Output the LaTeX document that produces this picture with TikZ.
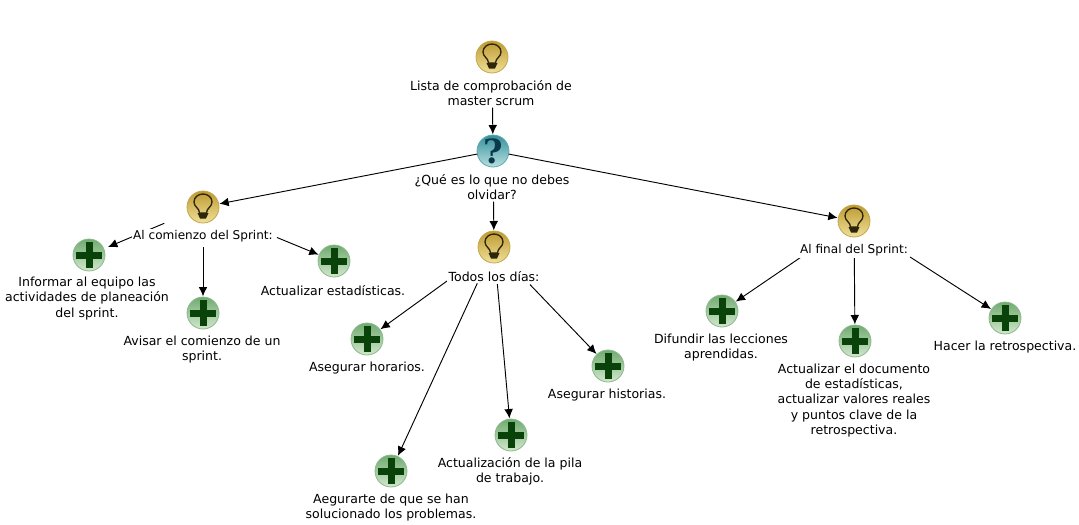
\documentclass[tikz,border=0pt]{standalone}
\usepackage{fontspec}
\setmainfont{DejaVu Sans}
\newfontfamily\askfont{DejaVu Serif}
\usetikzlibrary{arrows.meta}
\tikzset{
  iconbase/.style={circle,minimum size=24pt,inner sep=0pt,outer sep=0pt,line width=.6pt},
  bulbicon/.style={iconbase,draw=bulbrim,top color=bulbdark,bottom color=bulblight,
    path picture={\begin{scope}[shift={(path picture bounding box.center)}]
      \draw[bulbink,line width=1pt] (-3.5,6) .. controls (-3.5,1) and (-9,0) .. (-9,-5) .. controls (-9,-10) and (-4.5,-13) .. (0,-13) .. controls (4.5,-13) and (9,-10) .. (9,-5) .. controls (9,0) and (3.5,1) .. (3.5,6) -- cycle;
      \fill[bulbink] (-5.5,6) -- (5.5,6) -- (3,11.5) -- (-3,11.5) -- cycle;
    \end{scope}}},
  askicon/.style={iconbase,draw=askrim,top color=askdark,bottom color=asklight,text=askink,
    font=\askfont\bfseries\fontsize{25pt}{25pt}\selectfont},
  plusicon/.style={iconbase,draw=plusrim,top color=plusdark,bottom color=pluslight,
    path picture={\begin{scope}[shift={(path picture bounding box.center)}]
      \fill[plusink] (-13,-3.5) rectangle (13,3.5);
      \fill[plusink] (-3.5,-13) rectangle (3.5,13);
    \end{scope}}},
  lbl/.style={fill=white,align=center,inner xsep=1pt,inner ysep=1pt,font=\fontsize{9.4pt}{11.3pt}\selectfont},
  lblhead/.style={lbl,font=\fontsize{9.05pt}{11.3pt}\selectfont},
  link/.style={-{Latex[length=7pt,width=6.5pt]},line width=.7pt,shorten >=.5pt},
}
\definecolor{bulbrim}{HTML}{C4A648}
\definecolor{bulblight}{HTML}{F0E09A}
\definecolor{bulbdark}{HTML}{BE9A30}
\definecolor{bulbink}{HTML}{2E2608}
\definecolor{askrim}{HTML}{5FA8B0}
\definecolor{asklight}{HTML}{B8E0E0}
\definecolor{askdark}{HTML}{35909C}
\definecolor{askink}{HTML}{0A3A4A}
\definecolor{plusrim}{HTML}{8DB88D}
\definecolor{pluslight}{HTML}{D2E8CD}
\definecolor{plusdark}{HTML}{70AA70}
\definecolor{plusink}{HTML}{0A430A}
\begin{document}
\begin{tikzpicture}[x=.75pt,y=-.75pt]
\useasboundingbox (0,0) rectangle (1079,525);

% icons
\node[bulbicon] (lista) at (492,57) {};
\node[askicon] (pregunta) at (493,151) {?};
\node[bulbicon] (comienzo) at (203,207) {};
\node[bulbicon] (dias) at (494,247) {};
\node[bulbicon] (final) at (854,221) {};

\node[plusicon] (informar) at (89,255) {};
\node[plusicon] (avisar) at (203,313) {};
\node[plusicon] (estadisticas) at (334,261) {};

\node[plusicon] (horarios) at (367,339) {};
\node[plusicon] (problemas) at (391,471) {};
\node[plusicon] (pila) at (511,435) {};
\node[plusicon] (historias) at (608,366) {};

\node[plusicon] (lecciones) at (722,311) {};
\node[plusicon] (documento) at (855,341) {};
\node[plusicon] (retro) at (1005,318) {};

% connectors
\draw[link,shorten <=26pt] (lista) -- (pregunta);
\draw[link] (pregunta) -- (comienzo);
\draw[link,shorten <=26pt] (pregunta) -- (dias);
\draw[link] (pregunta) -- (final);

\draw[link,shorten <=19.5pt,shorten >=3.5pt] (comienzo) -- (informar);
\draw[link,shorten <=18pt] (comienzo) -- (avisar);
\draw[link,shorten <=48pt] (comienzo) -- (estadisticas);

\draw[link,shorten <=31pt] (dias) -- (horarios);
\draw[link,shorten <=18pt] (dias) -- (problemas);
\draw[link,shorten <=16pt] (dias) -- (pila);
\draw[link,shorten <=27pt] (dias) -- (historias);

\draw[link,shorten <=36pt] (final) -- (lecciones);
\draw[link,shorten <=15pt] (final) -- (documento);
\draw[link,shorten <=38pt] (final) -- (retro);

% labels
\node[lbl] (listatxt) at (491,93.5) {Lista de comprobación de\\master scrum};
\node[lbl] (preguntatxt) at (492,187.5) {¿Qué es lo que no debes\\olvidar?};
\node[lblhead] (comienzotxt) at (203,236.5) {Al comienzo del Sprint:};
\node[lbl] (diastxt) at (494,276.5) {Todos los días:};
\node[lblhead] (finaltxt) at (854,250.5) {Al final del Sprint:};

\node[lbl] (informartxt) at (87,298.5) {Informar al equipo las\\actividades de planeación\\del sprint.};
\node[lbl] (avisartxt) at (202,349.5) {Avisar el comienzo de un\\sprint.};
\node[lbl] (estadisticastxt) at (333,290.5) {Actualizar estadísticas.};

\node[lbl] (horariostxt) at (367,368.5) {Asegurar horarios.};
\node[lbl] (problemastxt) at (391,507.5) {Aegurarte de que se han\\solucionado los problemas.};
\node[lbl] (pilatxt) at (510,471.5) {Actualización de la pila\\de trabajo.};
\node[lbl] (historiastxt) at (607,395.5) {Asegurar historias.};

\node[lbl] (leccionestxt) at (721,347.5) {Difundir las lecciones\\aprendidas.};
\node[lbl] (documentotxt) at (854,400.5) {Actualizar el documento\\de estadísticas,\\actualizar valores reales\\y puntos clave de la\\retrospectiva.};
\node[lbl] (retrotxt) at (1005,347.5) {Hacer la retrospectiva.};
\end{tikzpicture}
\end{document}
